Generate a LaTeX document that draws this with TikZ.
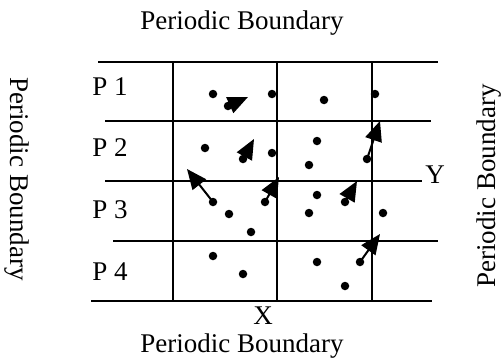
\documentclass[tikz,border=0pt]{standalone}
\usepackage{fontspec}
\setmainfont{Liberation Serif}
\usetikzlibrary{arrows.meta}
\tikzset{
  gridline/.style={line width=1.6pt, black},
  particle/.style={circle, fill=black, inner sep=0pt, minimum size=8.5pt},
  move/.style={line width=2pt, -{Triangle[length=20pt,width=17pt]}},
  lbl/.style={inner sep=0pt, font=\fontsize{27}{30}\selectfont},
}
\begin{document}
\begin{tikzpicture}[x=1pt,y=-1pt]
\useasboundingbox (0,0) rectangle (504,364);
% grid
\draw[gridline] (98,62) -- (438,62);
\draw[gridline] (105,121) -- (431,121);
\draw[gridline] (105,181) -- (422,181);
\draw[gridline] (113,241) -- (438,241);
\draw[gridline] (91,301) -- (432,301);
\draw[gridline] (173,62) -- (173,301);
\draw[gridline] (277,62) -- (277,301);
\draw[gridline] (372,62) -- (372,301);
% labels
\node[lbl] (top) at (242,23) {Periodic Boundary};
\node[lbl] (bot) at (242,346) {Periodic Boundary};
\node[lbl] (X) at (263,316) {X};
\node[lbl, rotate=-90] (left) at (17,179) {Periodic Boundary};
\node[lbl, rotate=90] (right) at (489,186) {Periodic Boundary};
\node[lbl] (Y) at (435,175) {Y};
\node[lbl] (p1) at (110,87) {P 1};
\node[lbl] (p2) at (110,148) {P 2};
\node[lbl] (p3) at (110,210) {P 3};
\node[lbl] (p4) at (110,272) {P 4};
% particles
\node[particle] (d1) at (213,94) {};
\node[particle] (d2) at (228,106) {};
\node[particle] (d3) at (272,94) {};
\node[particle] (d4) at (324,100) {};
\node[particle] (d5) at (375,94) {};
\node[particle] (d6) at (205,148) {};
\node[particle] (d7) at (243,159) {};
\node[particle] (d8) at (272,153) {};
\node[particle] (d9) at (317,141) {};
\node[particle] (d10) at (309,165) {};
\node[particle] (d11) at (367,159) {};
\node[particle] (d12) at (213,202) {};
\node[particle] (d13) at (229,214) {};
\node[particle] (d14) at (251,232) {};
\node[particle] (d15) at (265,202) {};
\node[particle] (d16) at (317,195) {};
\node[particle] (d17) at (345,202) {};
\node[particle] (d18) at (309,213) {};
\node[particle] (d19) at (383,213) {};
\node[particle] (d20) at (213,256) {};
\node[particle] (d21) at (243,274) {};
\node[particle] (d22) at (317,262) {};
\node[particle] (d23) at (360,262) {};
\node[particle] (d24) at (345,286) {};
% arrow tips
\coordinate (t2) at (248,97);
\coordinate (t7) at (254,139);
\coordinate (t11) at (380,121);
\coordinate (t12) at (187,169);
\coordinate (t15) at (279,177);
\coordinate (t17) at (357,181);
\coordinate (t23) at (380,234);
% arrows
\draw[move] (d2.center) -- (t2);
\draw[move] (d7.center) -- (t7);
\draw[move] (d11.center) -- (t11);
\draw[move] (d12.center) -- (t12);
\draw[move] (d15.center) -- (t15);
\draw[move] (d17.center) -- (t17);
\draw[move] (d23.center) -- (t23);
\end{tikzpicture}
\end{document}
